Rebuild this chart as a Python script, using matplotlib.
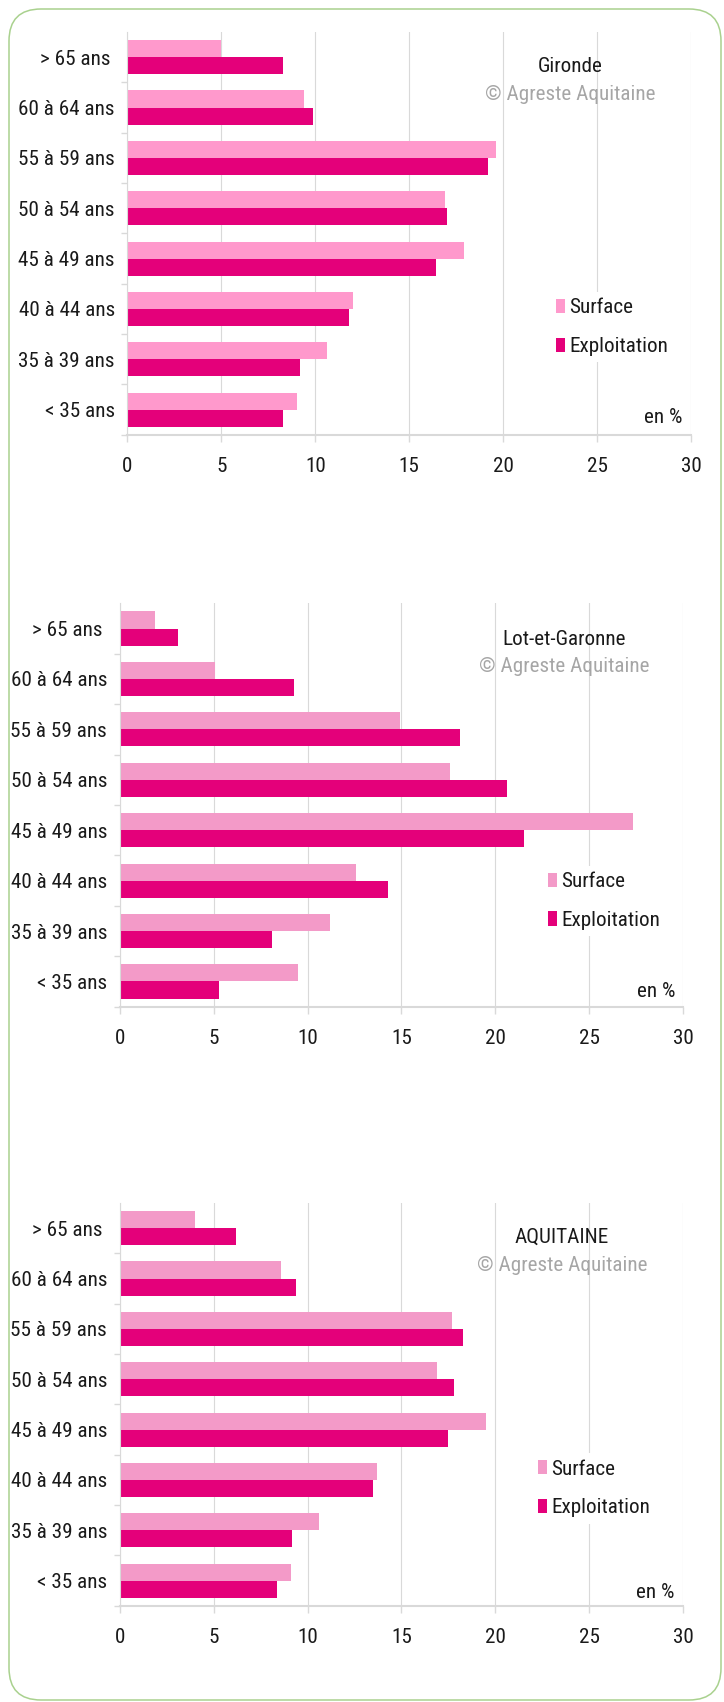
import matplotlib
matplotlib.use("Agg")
import matplotlib.pyplot as plt
from matplotlib import font_manager
from matplotlib.font_manager import FontProperties
from matplotlib.patches import FancyBboxPatch
from matplotlib.transforms import IdentityTransform
from matplotlib.textpath import TextPath
import numpy as np

categories = ["> 65 ans ", "60 à 64 ans", "55 à 59 ans", "50 à 54 ans",
              "45 à 49 ans", "40 à 44 ans", "35 à 39 ans", "< 35 ans"]
xticks = [0, 5, 10, 15, 20, 25, 30]

gironde_surface = [5.0, 9.4, 19.6, 16.9, 17.9, 12.0, 10.6, 9.0]
gironde_exploitation = [8.3, 9.9, 19.2, 17.0, 16.4, 11.8, 9.2, 8.3]

lot_surface = [1.9, 5.1, 14.9, 17.6, 27.3, 12.6, 11.2, 9.5]
lot_exploitation = [3.1, 9.3, 18.1, 20.6, 21.5, 14.3, 8.1, 5.3]

aquitaine_surface = [4.0, 8.6, 17.7, 16.9, 19.5, 13.7, 10.6, 9.1]
aquitaine_exploitation = [6.2, 9.4, 18.3, 17.8, 17.5, 13.5, 9.2, 8.4]

titles = ["Gironde", "Lot-et-Garonne", "AQUITAINE"]
series_labels = ["Surface", "Exploitation"]


# ---- pick a narrow font if one is installed ----
def pick_font():
    ttf = font_manager.fontManager.ttflist
    def regular(f):
        w = f.weight if isinstance(f.weight, int) else 400
        return f.style == 'normal' and w in (400, 'normal', 'regular')
    for name in ['Liberation Sans Narrow', 'Arial Narrow', 'Roboto Condensed',
                 'Open Sans Condensed', 'Noto Sans Condensed']:
        for f in ttf:
            if f.name == name and regular(f):
                return FontProperties(fname=f.fname)
    for fam in ['DejaVu Sans', 'Noto Sans', 'Open Sans', 'Roboto', 'Liberation Sans']:
        for f in ttf:
            if f.name == fam and regular(f) and str(f.stretch) in ('condensed', 'semi-condensed', '700', '600', 'extra-condensed'):
                return FontProperties(fname=f.fname)
    for f in ttf:
        if ('Narrow' in f.fname or 'Condensed' in f.fname) and regular(f) and 'Bold' not in f.fname \
                and 'Italic' not in f.fname and 'Oblique' not in f.fname:
            return FontProperties(fname=f.fname)
    return FontProperties(family='Liberation Sans')

FP = pick_font()
w10 = TextPath((0, 0), "60 à 64 ans", size=10, prop=FP).get_extents().width
FS = min(16.5, 94 * 72 * 10 / (100 * w10))
FS_PX = FS * 100 / 72


def fp():
    p = FP.copy()
    p.set_size(FS)
    return p


W, H = 724, 1702
fig = plt.figure(figsize=(W / 100, H / 100), dpi=100)

border = FancyBboxPatch((9, 2), 712, 1691, boxstyle="round,pad=0,rounding_size=32",
                        transform=IdentityTransform(), facecolor="none",
                        edgecolor="#A9D18E", linewidth=1.1)
fig.add_artist(border)

GRID = "#D9D9D9"
EXPL = "#E4007A"

panels = [
    dict(surf=gironde_surface, expl=gironde_exploitation, left=127.4, top=32, h=402.7,
         scol="#FF99CC", title_x=0.786, title_y=0.914, copy_y=0.844,
         en_x=0.984, en_y=0.0415, leg_x=0.7497, leg_y=0.267),
    dict(surf=lot_surface, expl=lot_exploitation, left=119.6, top=603.3, h=403.4,
         scol="#F39AC8", title_x=0.788, title_y=0.9115, copy_y=0.843,
         en_x=0.986, en_y=0.037, leg_x=0.749, leg_y=0.262),
    dict(surf=aquitaine_surface, expl=aquitaine_exploitation, left=119.6, top=1203, h=402.7,
         scol="#F39AC8", title_x=0.785, title_y=0.9156, copy_y=0.844,
         en_x=0.985, en_y=0.034, leg_x=0.731, leg_y=0.291),
]

width_px = 563.7
y = np.arange(len(categories))
bh = 0.338

for i, p in enumerate(panels):
    ax = fig.add_axes([p['left'] / W, 1 - (p['top'] + p['h']) / H, width_px / W, p['h'] / H])
    bs = ax.barh(y - bh / 2, p['surf'], height=bh, color=p['scol'], label=series_labels[0], zorder=2)
    be = ax.barh(y + bh / 2, p['expl'], height=bh, color=EXPL, label=series_labels[1], zorder=2)
    ax.set_xlim(0, 30)
    ax.set_ylim(7.5, -0.5)
    ax.set_xticks(xticks)
    ax.set_xticklabels([str(t) for t in xticks], fontproperties=fp(), color='#1a1a1a')
    ax.set_yticks(y)
    ax.set_yticklabels(categories, fontproperties=fp(), color='#1a1a1a')
    ax.set_yticks(np.arange(0.5, 8.0, 1.0), minor=True)
    ax.tick_params(axis='y', which='major', length=0, pad=9)
    ax.tick_params(axis='y', which='minor', length=4, color=GRID, width=1)
    ax.tick_params(axis='x', which='major', length=5, color=GRID, width=1, pad=11)
    ax.grid(axis='x', color=GRID, linewidth=0.8, zorder=0)
    ax.set_axisbelow(True)
    for s in ['top', 'right']:
        ax.spines[s].set_visible(False)
    ax.spines['left'].set_color(GRID)
    ax.spines['left'].set_linewidth(0.8)
    ax.spines['bottom'].set_color(GRID)
    ax.spines['bottom'].set_linewidth(1.5)
    ax.spines['bottom'].set_zorder(3)

    ax.text(p['title_x'], p['title_y'], titles[i], transform=ax.transAxes,
            ha='center', va='center', fontproperties=fp(), color='#1a1a1a')
    ax.text(p['title_x'], p['copy_y'], "© Agreste Aquitaine", transform=ax.transAxes,
            ha='center', va='center', fontproperties=fp(), color='#A6A6A6')
    ax.text(p['en_x'], p['en_y'], "en %", transform=ax.transAxes,
            ha='right', va='center', fontproperties=fp(), color='#1a1a1a')

    leg = ax.legend(handles=[bs, be], labels=series_labels, loc='center left',
                    bbox_to_anchor=(p['leg_x'], p['leg_y']), bbox_transform=ax.transAxes,
                    prop=fp(), frameon=True, facecolor='white', edgecolor='none',
                    framealpha=1, fancybox=False, borderaxespad=0, borderpad=0.3,
                    handlelength=9 / FS_PX, handleheight=14 / FS_PX, handletextpad=4 / FS_PX,
                    labelspacing=max(0.2, 41 / FS_PX - 1.0))
    for t in leg.get_texts():
        t.set_color('#1a1a1a')
    leg.set_zorder(5)

fig.savefig("out.png", dpi=100, facecolor='white')
